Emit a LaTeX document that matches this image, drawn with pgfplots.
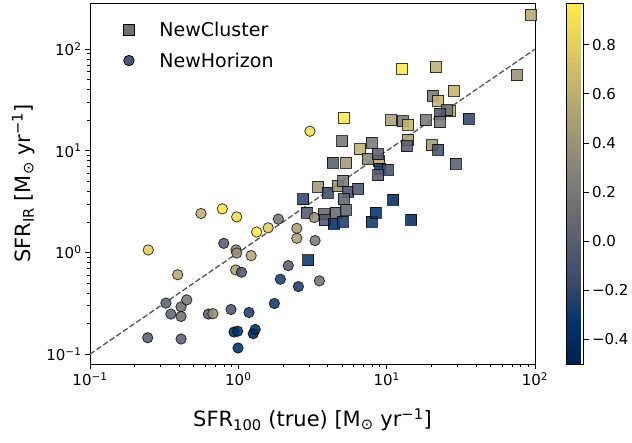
\documentclass[border=0pt]{standalone}
\usepackage{pgfplots}
\pgfplotsset{compat=1.18}
\usepackage{fontspec}
\setmainfont{DejaVu Sans}
\pgfplotsset{colormap={cividis}{rgb255=(0,32,77) rgb255=(0,51,111) rgb255=(57,72,107) rgb255=(87,92,109) rgb255=(112,113,115) rgb255=(138,135,121) rgb255=(166,157,117) rgb255=(196,181,108) rgb255=(228,207,91) rgb255=(255,234,70)}}
\definecolor{nccol}{RGB}{110,113,118}
\definecolor{nhcol}{RGB}{75,87,119}
\definecolor{dashcol}{RGB}{85,85,85}
\begin{document}
\begin{tikzpicture}
\path (-90pt,-79pt) rectangle (542pt,364pt);
\begin{axis}[
  scale only axis, width=445pt, height=361pt,
  xmode=log, ymode=log,
  xmin=0.1, xmax=100, ymin=0.08, ymax=285,
  colormap name=cividis,
  point meta min=-0.5, point meta max=0.97,
  xtick={0.1,1,10,100}, ytick={0.1,1,10,100},
  xticklabels={10\textsuperscript{−1},10\textsuperscript{0},10\textsuperscript{1},10\textsuperscript{2}},
  yticklabels={10\textsuperscript{−1},10\textsuperscript{0},10\textsuperscript{1},10\textsuperscript{2}},
  xtick pos=bottom, ytick pos=left,
  tick align=outside, major tick length=5pt, minor tick length=3pt,
  tick style={black, line width=0.8pt},
  axis line style={line width=0.8pt},
  ticklabel style={font=\fontsize{15}{18}\selectfont},
  label style={font=\fontsize{21}{25}\selectfont},
  xlabel={SFR\textsubscript{100} (true) [M\textsubscript{⊙} yr\textsuperscript{−1}]},
  ylabel={SFR\textsubscript{IR} [M\textsubscript{⊙} yr\textsuperscript{−1}]},
  xlabel style={at={(axis description cs:0.5,-0.155)}, anchor=center},
  ylabel style={at={(axis description cs:-0.15,0.5)}, anchor=center},
  legend style={draw=none, fill=none, at={(axis description cs:0.068,0.96)}, anchor=north west, font=\fontsize{19}{23}\selectfont, row sep=11pt, column sep=23pt},
  legend cell align=left,
  colorbar,
  colorbar style={
    at={(parent axis.north east)}, anchor=north west, xshift=23pt,
    width=17pt,
    ytick={-0.4,-0.2,0,0.2,0.4,0.6,0.8},
    yticklabels={−0.4,−0.2,0.0,0.2,0.4,0.6,0.8},
    yticklabel style={font=\fontsize{15}{18}\selectfont},
    ytick pos=right, tick align=outside, major tick length=5pt,
    tick style={black, line width=0.8pt},
    axis line style={line width=0.8pt},
  },
]
\addlegendimage{only marks, mark=square*, mark size=5.5pt, mark options={fill=nccol, draw=black, line width=0.8pt}}
\addlegendentry{NewCluster}
\addlegendimage{only marks, mark=*, mark size=5.2pt, mark options={fill=nhcol, draw=black, line width=0.8pt}}
\addlegendentry{NewHorizon}

\addplot[forget plot, dashcol, line width=1.3pt, dash pattern=on 5.5pt off 2.5pt] coordinates {(0.1,0.1) (100,100)};

% NewCluster
\addplot[forget plot, scatter, only marks, mark=square*, mark size=5.5pt, point meta=explicit,
  scatter/use mapped color={draw=black, fill=mapped color, fill opacity=0.88, draw opacity=0.75, line width=0.8pt}]
table[meta=c] {
x y c
2.95 0.839 -0.3
2.74 3.34 -0.2
2.89 2.48 -0.05
3.46 4.46 0.45
4.01 3.89 -0.15
4.67 4.54 0.4
5.52 3.96 -0.1
6.44 4.26 -0.05
5.11 3.34 0.05
5.08 5.08 0.2
3.78 2.38 0.1
3.84 2.08 -0.05
4.54 2.48 0.1
5.30 2.63 0.05
4.38 1.91 -0.4
5.06 2.02 -0.25
7.94 2.02 -0.3
8.45 2.45 -0.35
11.1 3.32 -0.4
14.6 2.11 -0.4
4.33 7.66 0.0
5.33 7.66 0.45
5.11 21.1 0.97
5.03 12.5 0.2
6.62 10.4 0.6
7.91 12.0 0.2
7.43 8.41 0.3
8.93 7.94 0.55
8.71 9.25 0.0
9.02 6.68 -0.3
10.2 6.54 -0.1
8.75 5.75 0.0
10.7 20.0 0.5
12.8 19.6 0.2
14.0 18.1 0.65
18.4 20.0 0.2
14.0 12.8 0.5
13.7 11.1 0.0
12.6 64.0 0.95
21.4 66.4 0.6
75.4 55.3 0.4
28.2 39.2 0.65
20.4 35.0 0.2
22.3 31.3 0.65
26.5 24.5 0.6
25.4 25.2 0.15
22.9 23.2 -0.05
22.7 19.1 0.2
35.9 20.7 -0.2
20.1 11.4 0.45
22.3 10.2 -0.1
29.2 7.50 0.0
93.4 218 0.55
};

% NewHorizon
\addplot[forget plot, scatter, only marks, mark=*, mark size=5.2pt, point meta=explicit,
  scatter/use mapped color={draw=black, fill=mapped color, fill opacity=0.88, draw opacity=0.75, line width=0.8pt}]
table[meta=c] {
x y c
0.247 1.06 0.8
0.390 0.605 0.55
0.325 0.318 0.05
0.351 0.248 0.05
0.411 0.292 0.15
0.411 0.235 0.15
0.449 0.342 0.2
0.245 0.145 0.0
0.411 0.141 0.0
0.560 2.42 0.6
0.780 2.69 0.95
0.975 2.24 0.9
0.798 1.23 0.0
0.965 1.06 0.35
0.975 0.989 0.4
1.22 0.931 0.55
0.96 0.673 0.5
1.05 0.640 -0.05
0.628 0.248 0.0
0.674 0.250 0.4
0.893 0.275 -0.05
1.18 0.257 -0.25
0.935 0.165 -0.4
0.99 0.168 -0.35
0.995 0.115 -0.35
1.26 0.159 -0.45
1.30 0.175 -0.4
1.33 1.59 0.97
1.59 1.75 0.8
1.86 2.13 0.2
2.48 1.73 0.5
2.48 1.38 0.5
3.29 1.31 0.2
2.17 0.743 0.0
1.92 0.546 -0.25
2.54 0.462 -0.25
3.52 0.526 0.15
1.75 0.315 -0.3
3.25 2.21 0.4
3.04 15.6 0.9
};
\end{axis}
\end{tikzpicture}
\end{document}
